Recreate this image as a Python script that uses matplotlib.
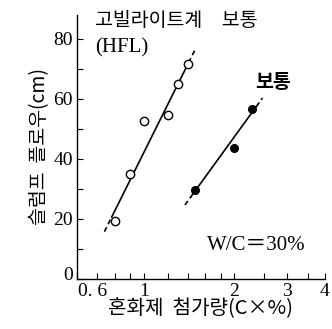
import matplotlib
matplotlib.use("Agg")
import matplotlib.pyplot as plt
import matplotlib.transforms as mtransforms
import numpy as np
from matplotlib.ticker import FixedLocator, NullFormatter

# data
hfl_x = [0.80, 0.90, 1.00, 1.20, 1.30, 1.40]
hfl_y = [19.1, 35.0, 52.5, 54.5, 65.0, 71.5]
hfl_fit_x = [0.74, 1.49]
hfl_fit_y = [15.7, 77.0]

normal_x = [1.48, 2.00, 2.28]
normal_y = [29.7, 43.5, 56.5]
normal_fit_x = [1.37, 2.48]
normal_fit_y = [24.6, 60.3]

x_ticks = [0.6, 1, 2, 3, 4]
x_ticklabels = ["0. 6", "1", "2", "3", "4"]
x_minor = [0.7, 0.8, 0.9, 1.2, 1.4, 1.6, 1.8, 2.5, 3.5]
y_ticks = [0, 20, 40, 60, 80]
y_minor = [10, 30, 50, 70]

serif = ["Liberation Serif", "Noto Sans CJK KR"]
kr = ["Noto Sans CJK KR", "Liberation Serif"]

fig = plt.figure(figsize=(3.32, 3.29), dpi=100)
ax = fig.add_axes([77/332, 1-278.7/329, (325-77)/332, (278.7-15)/329])
ax.set_xscale("log")
ax.set_xlim(0.6, 4)
ax.set_ylim(0, 88)

# fit lines: dashed extensions, solid middle
def fit_line(xs, ys):
    lx = np.log10(xs)
    t = np.array([0.0, 0.08, 0.92, 1.0])
    xx = 10 ** (lx[0] + (lx[1]-lx[0]) * t)
    yy = ys[0] + (ys[1]-ys[0]) * t
    ax.plot(xx[1:3], yy[1:3], color="black", lw=1.2, zorder=2)
    ax.plot(xx[0:2], yy[0:2], color="black", lw=1.2, zorder=2, dashes=(3, 2))
    ax.plot(xx[2:4], yy[2:4], color="black", lw=1.2, zorder=2, dashes=(3, 2))

fit_line(hfl_fit_x, hfl_fit_y)
fit_line(normal_fit_x, normal_fit_y)

ax.plot(hfl_x, hfl_y, "o", ms=6, mfc="white", mec="black", mew=1.0, zorder=3)
ax.plot(normal_x, normal_y, "o", ms=5.5, mfc="black", mec="black", zorder=3)

ax.xaxis.set_major_locator(FixedLocator(x_ticks))
ax.set_xticklabels(x_ticklabels, family=serif, fontsize=14)
ax.xaxis.set_minor_locator(FixedLocator(x_minor))
ax.xaxis.set_minor_formatter(NullFormatter())
ax.set_yticks(y_ticks)
ax.set_yticklabels([str(v) for v in y_ticks], family=serif, fontsize=14)
ax.yaxis.set_minor_locator(FixedLocator(y_minor))
ax.tick_params(which="both", direction="in", length=4, width=0.8, pad=3)
ax.tick_params(axis="x", which="major", pad=3)

# shift the first x tick label to the right (as in the reference)
lbl0 = ax.get_xticklabels()[0]
lbl0.set_transform(lbl0.get_transform() + mtransforms.ScaledTranslation(0.16, 0, fig.dpi_scale_trans))
# lift the "0" y label slightly
ylbl0 = ax.get_yticklabels()[0]
ylbl0.set_transform(ylbl0.get_transform() + mtransforms.ScaledTranslation(0, 0.05, fig.dpi_scale_trans))

for s in ["top", "right"]:
    ax.spines[s].set_visible(False)
for s in ["left", "bottom"]:
    ax.spines[s].set_linewidth(1.0)

ax.set_xlabel("혼화제  첨가량(C×%)", family=kr, fontsize=14.5, labelpad=-1)
ax.set_ylabel("슬럼프  플로우(cm)", family=kr, fontsize=14, labelpad=2)

fig.text(95/332, 1-20/329, "고빌라이트계\u3000보통", family=kr, fontsize=14, va="center", ha="left")
fig.text(95/332, 1-48/329, "(HFL)", family=serif, fontsize=15, va="center", ha="left")
fig.text(255/332, 1-82/329, "보통", family=kr, fontsize=14, fontweight="bold", va="center", ha="left")
fig.text(207/332, 1-245/329, "W/C\uff1d30%", family=serif, fontsize=15, va="center", ha="left")

fig.savefig("out.png", dpi=100)
